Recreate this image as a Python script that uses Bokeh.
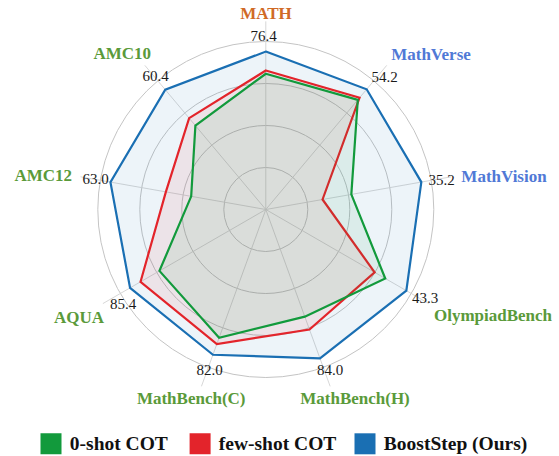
import math
from bokeh.plotting import figure
from bokeh.models import Range1d, ColumnDataSource
from bokeh.core.properties import value
from bokeh.embed import file_html
from bokeh.resources import INLINE

# ---------------- data ----------------
categories = ["MATH", "MathVerse", "MathVision", "OlympiadBench", "MathBench(H)",
              "MathBench(C)", "AQUA", "AMC12", "AMC10"]
tick_labels = ["76.4", "54.2", "35.2", "43.3", "84.0", "82.0", "85.4", "63.0", "60.4"]
series_names = ["0-shot COT", "few-shot COT", "BoostStep (Ours)"]
# normalised radial values (outer grid ring = 1.0)
zero_shot = [0.808, 0.852, 0.517, 0.821, 0.679, 0.813, 0.731, 0.451, 0.652]
few_shot = [0.827, 0.868, 0.343, 0.748, 0.760, 0.852, 0.861, 0.604, 0.710]
boost_step = [0.940, 0.934, 0.940, 0.966, 0.943, 0.920, 0.933, 0.939, 0.931]
ring_levels = [0.25, 0.5, 0.75, 1.0]

# ---------------- style / layout ----------------
W, H = 559, 456
CX, CY = 265.3, 209.0          # centre in page pixels
R = 168.0                      # pixels for value 1.0
SPOKE = 1.12
FONT = "Liberation Serif"
series_colors = ["#129a3c", "#e3242b", "#1a6fb3"]
cat_colors = ["#d06a26", "#5079d6", "#5079d6", "#5a9a3a", "#5a9a3a",
              "#5a9a3a", "#5a9a3a", "#5a9a3a", "#5a9a3a"]
cat_pos = [(265.5, 12.5), (430.5, 54), (503.5, 176), (492.5, 314.5), (354.5, 398),
           (190.7, 398), (78.6, 317), (42.8, 175), (121.8, 53)]
tick_pos = [(263, 35), (384, 76), (441, 179.3), (424.5, 297.3), (329.7, 369.3),
            (209, 369.3), (122.5, 303.3), (95, 178.3), (155, 75)]
legend_sq = [50.5, 199.6, 364.5]
legend_tx = [69.3, 218.3, 383.3]
legend_y = 443.3


def px(x):
    return x - CX


def py(y):
    return CY - y


p = figure(width=W, height=H, x_range=Range1d(px(0), px(W)),
           y_range=Range1d(py(H), py(0)), x_axis_type=None, y_axis_type=None,
           min_border=0, outline_line_color=None, toolbar_location=None,
           output_backend="svg", background_fill_color="white")
p.grid.visible = False

n = len(categories)
angles = [math.radians(90 - 360.0 / n * i) for i in range(n)]

# grid rings and spokes
p.circle(x=[0] * len(ring_levels), y=[0] * len(ring_levels),
         radius=[lv * R for lv in ring_levels], fill_color=None,
         line_color="#c4c4c4", line_width=1)
p.segment(x0=[0] * n, y0=[0] * n,
          x1=[SPOKE * R * math.cos(a) for a in angles],
          y1=[SPOKE * R * math.sin(a) for a in angles],
          line_color="#d2d2d2", line_width=0.9)

# series polygons
for vals, col in zip([boost_step, few_shot, zero_shot],
                     [series_colors[2], series_colors[1], series_colors[0]]):
    xs = [v * R * math.cos(a) for v, a in zip(vals, angles)]
    ys = [v * R * math.sin(a) for v, a in zip(vals, angles)]
    p.patch(xs, ys, fill_color=col, fill_alpha=0.08, line_color=col,
            line_width=2.2, line_join="miter")

# category labels
cat_src = ColumnDataSource(dict(x=[px(a) for a, b in cat_pos], y=[py(b) for a, b in cat_pos],
                                t=categories, c=cat_colors))
p.text(x="x", y="y", text="t", text_color="c", source=cat_src,
       text_font=value(FONT), text_font_style="bold", text_font_size="17px",
       text_align="center", text_baseline="middle")

# tick labels
tk_src = ColumnDataSource(dict(x=[px(a) for a, b in tick_pos], y=[py(b) for a, b in tick_pos],
                               t=tick_labels))
p.text(x="x", y="y", text="t", source=tk_src, text_color="#1a1a1a",
       text_font=value(FONT), text_font_size="15px",
       text_align="center", text_baseline="middle")

# legend
p.rect(x=[px(v) for v in legend_sq], y=[py(legend_y)] * 3, width=21, height=21,
       fill_color=series_colors, line_color=None)
p.text(x=[px(v) for v in legend_tx], y=[py(legend_y)] * 3, text=series_names,
       text_color="#111111", text_font=value(FONT), text_font_style="bold",
       text_font_size="19.5px", text_align="left", text_baseline="middle")

open("out.html", "w").write(file_html(p, INLINE))
